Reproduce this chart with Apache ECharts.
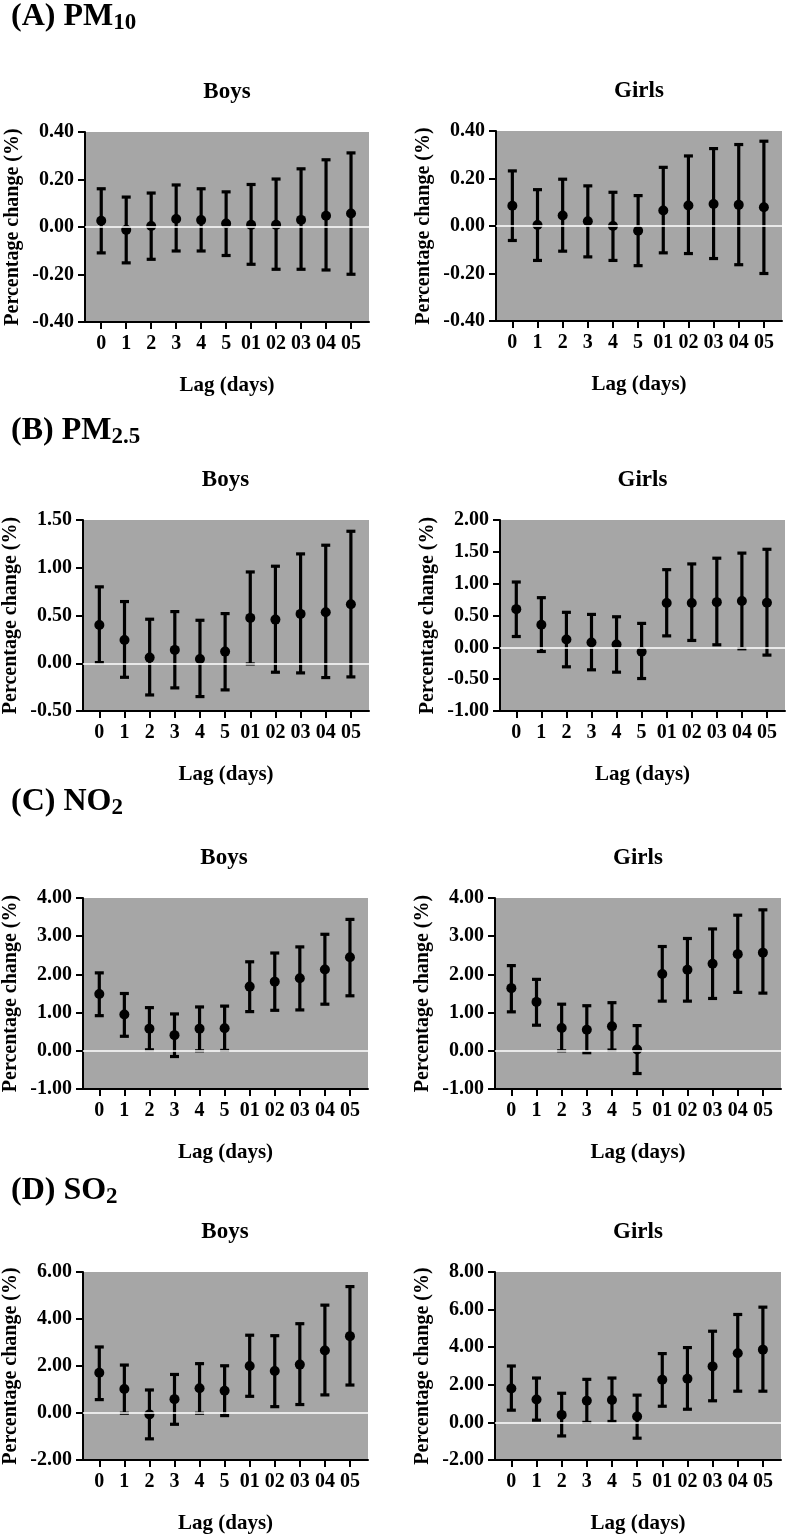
<!DOCTYPE html>
<html>
<head>
<meta charset="utf-8">
<script src="https://cdn.jsdelivr.net/npm/echarts@6/dist/echarts.min.js"></script>
<style>
  html, body { margin: 0; padding: 0; background: #fff; }
  #chart { width: 787px; height: 1535px; }
</style>
</head>
<body>
<div id="chart"></div>
<script>
  // lag labels on the x axis
  const lags = ['0', '1', '2', '3', '4', '5', '01', '02', '03', '04', '05'];

  // PM10
  const pm10BoysEst = [0.026, -0.012, 0.004, 0.034, 0.029, 0.015, 0.009, 0.009, 0.030, 0.047, 0.057];
  const pm10BoysLow = [-0.109, -0.151, -0.136, -0.101, -0.101, -0.120, -0.157, -0.178, -0.178, -0.181, -0.199];
  const pm10BoysHigh = [0.161, 0.126, 0.143, 0.177, 0.161, 0.148, 0.179, 0.202, 0.245, 0.283, 0.312];
  const pm10GirlsEst = [0.085, 0.004, 0.044, 0.020, 0.000, -0.020, 0.065, 0.086, 0.093, 0.089, 0.079];
  const pm10GirlsLow = [-0.061, -0.145, -0.106, -0.130, -0.145, -0.167, -0.113, -0.116, -0.137, -0.163, -0.200];
  const pm10GirlsHigh = [0.232, 0.153, 0.197, 0.169, 0.142, 0.128, 0.247, 0.295, 0.326, 0.343, 0.357];

  // PM2.5
  const pm25BoysEst = [0.40, 0.244, 0.059, 0.14, 0.045, 0.122, 0.475, 0.457, 0.517, 0.534, 0.618];
  const pm25BoysLow = [0.007, -0.147, -0.332, -0.258, -0.349, -0.279, -0.007, -0.094, -0.101, -0.150, -0.143];
  const pm25BoysHigh = [0.80, 0.646, 0.461, 0.541, 0.450, 0.520, 0.956, 1.016, 1.145, 1.236, 1.382];
  const pm25GirlsEst = [0.60, 0.355, 0.124, 0.077, 0.045, -0.07, 0.696, 0.696, 0.71, 0.728, 0.70];
  const pm25GirlsLow = [0.17, -0.065, -0.306, -0.353, -0.39, -0.49, 0.18, 0.108, 0.04, -0.023, -0.122];
  const pm25GirlsHigh = [1.026, 0.78, 0.55, 0.517, 0.48, 0.376, 1.22, 1.31, 1.40, 1.48, 1.54];

  // NO2
  const no2BoysEst = [1.487, 0.948, 0.58, 0.41, 0.58, 0.59, 1.68, 1.81, 1.90, 2.13, 2.45];
  const no2BoysLow = [0.92, 0.38, 0.026, -0.15, 0.0, 0.01, 1.026, 1.06, 1.07, 1.22, 1.44];
  const no2BoysHigh = [2.04, 1.50, 1.13, 0.965, 1.148, 1.17, 2.33, 2.56, 2.72, 3.05, 3.44];
  const no2GirlsEst = [1.64, 1.28, 0.595, 0.55, 0.64, 0.035, 2.01, 2.12, 2.28, 2.53, 2.57];
  const no2GirlsLow = [1.02, 0.67, 0.0, -0.05, 0.02, -0.595, 1.30, 1.30, 1.37, 1.53, 1.51];
  const no2GirlsHigh = [2.23, 1.87, 1.22, 1.18, 1.26, 0.66, 2.73, 2.94, 3.19, 3.55, 3.69];

  // SO2
  const so2BoysEst = [1.71, 1.02, -0.06, 0.59, 1.05, 0.95, 2.00, 1.79, 2.06, 2.66, 3.27];
  const so2BoysLow = [0.57, -0.01, -1.10, -0.48, -0.01, -0.11, 0.71, 0.27, 0.36, 0.77, 1.19];
  const so2BoysHigh = [2.81, 2.04, 0.98, 1.64, 2.10, 2.01, 3.31, 3.29, 3.80, 4.59, 5.38];
  const so2GirlsEst = [1.80, 1.22, 0.40, 1.15, 1.19, 0.31, 2.27, 2.32, 2.98, 3.68, 3.87];
  const so2GirlsLow = [0.65, 0.12, -0.72, 0.0, 0.05, -0.84, 0.86, 0.70, 1.15, 1.66, 1.66];
  const so2GirlsHigh = [3.0, 2.36, 1.55, 2.29, 2.36, 1.45, 3.66, 3.98, 4.85, 5.74, 6.13];

  // y axis ranges per panel: [min, max, interval]
  const yRanges = [
    [-0.4, 0.4, 0.2], [-0.4, 0.4, 0.2],
    [-0.5, 1.5, 0.5], [-1, 2, 0.5],
    [-1, 4, 1], [-1, 4, 1],
    [-2, 6, 2], [-2, 8, 2]
  ];

  const panels = [
    { est: pm10BoysEst, low: pm10BoysLow, high: pm10BoysHigh, sex: 'Boys', grid: [85, 132, 284, 190] },
    { est: pm10GirlsEst, low: pm10GirlsLow, high: pm10GirlsHigh, sex: 'Girls', grid: [496, 131, 286, 190] },
    { est: pm25BoysEst, low: pm25BoysLow, high: pm25BoysHigh, sex: 'Boys', grid: [82, 520, 287, 191] },
    { est: pm25GirlsEst, low: pm25GirlsLow, high: pm25GirlsHigh, sex: 'Girls', grid: [500, 520, 285, 191] },
    { est: no2BoysEst, low: no2BoysLow, high: no2BoysHigh, sex: 'Boys', grid: [80, 898, 288, 191] },
    { est: no2GirlsEst, low: no2GirlsLow, high: no2GirlsHigh, sex: 'Girls', grid: [495, 898, 286, 191] },
    { est: so2BoysEst, low: so2BoysLow, high: so2BoysHigh, sex: 'Boys', grid: [82, 1272, 286, 191] },
    { est: so2GirlsEst, low: so2GirlsLow, high: so2GirlsHigh, sex: 'Girls', grid: [495, 1272, 286, 191] }
  ];

  // section headings: [main, subscript, y]
  const sections = [
    ['(A) PM', '10', 17],
    ['(B) PM', '2.5', 431],
    ['(C) NO', '2', 802],
    ['(D) SO', '2', 1191]
  ];

  const FONT = '"Liberation Serif", "Times New Roman", serif';
  const tickIdx = lags.map((d, i) => i);

  let myChart = echarts.init(document.getElementById('chart'));

  let grids = [], xAxes = [], yAxes = [], series = [], graphics = [];

  panels.forEach((p, k) => {
    let g = p.grid;
    grids.push({
      left: g[0], top: g[1], width: g[2], height: g[3],
      show: true, backgroundColor: '#a6a6a6', borderWidth: 0
    });
    xAxes.push({
      type: 'value', gridIndex: k,
      min: -0.65, max: 10.72,
      name: 'Lag (days)', nameLocation: 'middle', nameGap: 53,
      nameTextStyle: { fontFamily: FONT, fontWeight: 'bold', fontSize: 21, color: '#000' },
      axisLine: { show: true, onZero: false, lineStyle: { color: '#000', width: 2 } },
      axisTick: { show: true, length: 7, customValues: tickIdx, lineStyle: { color: '#000', width: 2 } },
      axisLabel: {
        customValues: tickIdx, margin: 12,
        fontFamily: FONT, fontWeight: 'bold', fontSize: 20, color: '#000',
        formatter: v => lags[Math.round(v)]
      },
      splitLine: { show: false }
    });
    let r = yRanges[k];
    yAxes.push({
      type: 'value', gridIndex: k,
      min: r[0], max: r[1], interval: r[2],
      name: 'Percentage change (%)', nameLocation: 'middle', nameGap: 62, nameRotate: 90,
      nameTextStyle: { fontFamily: FONT, fontWeight: 'bold', fontSize: 20, color: '#000' },
      axisLine: { show: true, onZero: false, lineStyle: { color: '#000', width: 2 } },
      axisTick: { show: true, length: 7, lineStyle: { color: '#000', width: 2 } },
      axisLabel: {
        margin: 11, fontFamily: FONT, fontWeight: 'bold', fontSize: 20, color: '#000',
        formatter: v => v.toFixed(2)
      },
      splitLine: { show: false }
    });

    // white zero line
    series.push({
      type: 'line', xAxisIndex: k, yAxisIndex: k, data: [], z: 1, silent: true,
      markLine: {
        silent: true, symbol: 'none', label: { show: false },
        lineStyle: { color: '#ffffff', width: 1.5, type: 'solid' },
        data: [{ yAxis: 0 }]
      }
    });

    // error bars (95% CI)
    series.push({
      type: 'custom', xAxisIndex: k, yAxisIndex: k, z: 3, silent: true,
      data: p.est.map((e, i) => [i, p.low[i], p.high[i]]),
      encode: { x: 0, y: [1, 2] },
      renderItem: function (params, api) {
        let lo = api.coord([api.value(0), api.value(1)]);
        let hi = api.coord([api.value(0), api.value(2)]);
        let hw = 4.5;
        let st = { stroke: '#000', lineWidth: 3.2 };
        return {
          type: 'group',
          children: [
            { type: 'line', shape: { x1: lo[0], y1: lo[1], x2: hi[0], y2: hi[1] }, style: st },
            { type: 'line', shape: { x1: lo[0] - hw, y1: lo[1], x2: lo[0] + hw, y2: lo[1] }, style: st },
            { type: 'line', shape: { x1: hi[0] - hw, y1: hi[1], x2: hi[0] + hw, y2: hi[1] }, style: st }
          ]
        };
      }
    });

    // point estimates
    series.push({
      type: 'scatter', xAxisIndex: k, yAxisIndex: k, z: 4, silent: true,
      symbol: 'circle', symbolSize: 10,
      itemStyle: { color: '#000', opacity: 1 },
      data: p.est.map((e, i) => [i, e])
    });

    // Boys / Girls heading
    graphics.push({
      type: 'text', x: g[0] + g[2] / 2, y: g[1] - 40,
      style: {
        text: p.sex, fontFamily: FONT, fontWeight: 'bold', fontSize: 23, fill: '#000',
        align: 'center', verticalAlign: 'middle'
      }
    });
  });

  sections.forEach(s => {
    graphics.push({
      type: 'text', x: 11, y: s[2],
      style: {
        text: '{m|' + s[0] + '}{s|' + s[1] + '}',
        verticalAlign: 'middle', align: 'left',
        rich: {
          m: { fontFamily: FONT, fontWeight: 'bold', fontSize: 32, lineHeight: 36, fill: '#000', verticalAlign: 'middle' },
          s: { fontFamily: FONT, fontWeight: 'bold', fontSize: 23, lineHeight: 21, fill: '#000', verticalAlign: 'bottom' }
        }
      }
    });
  });

  let option = {
    backgroundColor: '#ffffff',
    animation: false,
    grid: grids,
    xAxis: xAxes,
    yAxis: yAxes,
    series: series,
    graphic: { elements: graphics }
  };
  myChart.setOption(option);
</script>
</body>
</html>
